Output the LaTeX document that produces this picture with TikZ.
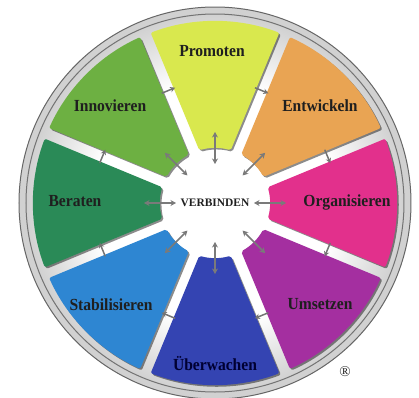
\documentclass[tikz,border=0pt]{standalone}
\usepackage{fontspec}
\setmainfont{Liberation Serif}
\usetikzlibrary{arrows.meta}
\pgfdeclareradialshading{hub}{\pgfpoint{0bp}{0bp}}{color(0bp)=(white); color(16bp)=(white); color(30bp)=(black!28); color(42bp)=(black!40); color(50bp)=(black!50)}
\definecolor{cProm}{HTML}{D9E84E}
\definecolor{cEntw}{HTML}{E9A453}
\definecolor{cOrga}{HTML}{E2308C}
\definecolor{cUmse}{HTML}{A42FA0}
\definecolor{cUebe}{HTML}{3444B2}
\definecolor{cStab}{HTML}{2E86D2}
\definecolor{cBera}{HTML}{2A8A57}
\definecolor{cInno}{HTML}{6DB042}
\begin{document}
\begin{tikzpicture}[x=1bp,y=1bp,
  segshape/.style={insert path={(#1-20.7:182) arc[start angle=#1-20.7, end angle=#1+20.7, radius=182] -- (#1+16.6:55) arc[start angle=#1+16.6, end angle=#1-16.6, radius=55] -- cycle}},
  lab/.style={font=\fontsize{17}{17}\selectfont\bfseries, xscale=0.92, text=black!88, inner sep=0pt},
  link/.style={draw=black!52, line width=1.5bp, {Stealth[length=5.5bp,width=6bp]}-{Stealth[length=5.5bp,width=6bp]}},
  gaparrow/.style={draw=black!55, line width=1.5bp, -{Stealth[length=5bp,width=5.5bp]}}]
\useasboundingbox (-215,-195) rectangle (204,203);
\fill[white] (-215,-195) rectangle (204,203);
% rim
\draw[line width=7bp, black!18] (0,0) circle[radius=192.5];
\draw[black!60, line width=1bp] (0,0) circle[radius=196];
\shade[shading=hub, draw=black!55, line width=1bp] (0,0) circle[radius=189];
% segments
\foreach \t/\c in {90/cProm,45/cEntw,0/cOrga,-45/cUmse,-90/cUebe,-135/cStab,180/cBera,135/cInno}{
  \fill[black, opacity=0.45, rounded corners=2bp, shift={(1.6,-1.6)}, segshape=\t];
  \fill[\c, rounded corners=2bp, segshape=\t];
}
% labels
\node[lab] (prom) at (-3,152) {Promoten};
\node[lab] (entw) at (105,97) {Entwickeln};
\node[lab] (orga) at (132,1) {Organisieren};
\node[lab] (umse) at (105,-101) {Umsetzen};
\node[lab, text=black!80!blue] (uebe) at (0,-161) {Überwachen};
\node[lab] (stab) at (-104,-102) {Stabilisieren};
\node[lab] (bera) at (-140,2) {Beraten};
\node[lab] (inno) at (-105,97) {Innovieren};
\node[font=\fontsize{11.5}{11.5}\selectfont\bfseries, text=black!88, inner sep=0pt] (verb) at (0,0) {VERBINDEN};
\node[font=\fontsize{15}{15}\selectfont, text=black!85, inner sep=0pt] (reg) at (130,-169) {®};
% radial double arrows
\foreach \t/\n in {90/prom,45/entw,0/orga,-45/umse,-90/uebe,-135/stab,180/bera,135/inno}{
  \coordinate (a\n) at (\t:39);
  \coordinate (b\n) at (\t:71);
  \draw[link] (a\n) -- (b\n);
}
% cycle arrows in the gaps (clockwise)
\foreach \p [count=\i] in {112.5,67.5,22.5,-22.5,-67.5,-112.5,-157.5,157.5}{
  \coordinate (gs\i) at (\p+3.4:122);
  \coordinate (ge\i) at (\p-3.4:122);
  \draw[gaparrow] (gs\i) -- (ge\i);
}
\end{tikzpicture}
\end{document}
